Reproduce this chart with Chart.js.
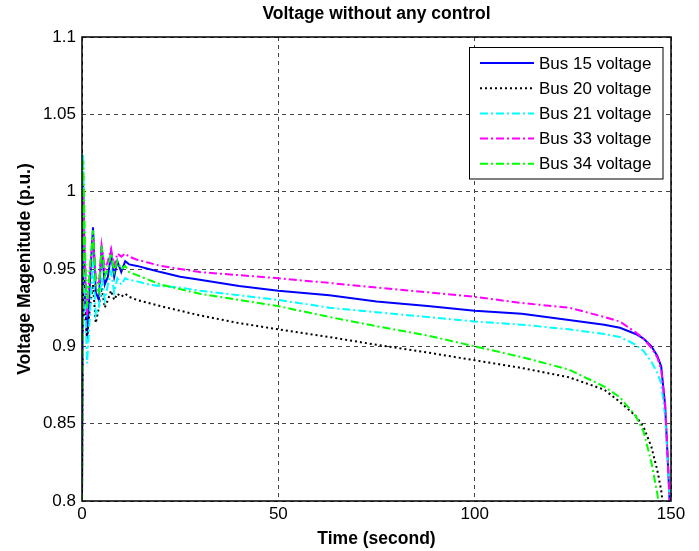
<!DOCTYPE html>
<html>
<head>
<meta charset="utf-8">
<script src="https://cdn.jsdelivr.net/npm/chart.js@4.4.1/dist/chart.umd.min.js"></script>
<style>
  html, body { margin: 0; padding: 0; background: #fff; }
  #wrap { width: 699px; height: 551px; }
</style>
</head>
<body>
<div id="wrap"><canvas id="grafico" width="699" height="551"></canvas></div>
<script>
// --- Dados ---
const tempo = [0, 0.3, 0.8, 1.3, 2.0, 2.8, 3.5, 4.3, 5.0, 5.8, 6.6, 7.4, 8.2, 9.0, 10, 11, 12, 14, 17, 20,
  25, 30, 40, 50, 63, 75, 88, 100, 112, 124, 133, 137, 141, 143, 145, 146.5, 147.5, 148.5, 149.3, 149.8];

const bus15 = [0.8, 1.005, 0.93, 0.905, 0.94, 0.977, 0.935, 0.93, 0.965, 0.94, 0.945, 0.96, 0.945, 0.955, 0.948, 0.955, 0.953, 0.952, 0.950, 0.948,
  0.945, 0.943, 0.939, 0.936, 0.933, 0.929, 0.926, 0.923, 0.921, 0.917, 0.914, 0.912, 0.908, 0.905, 0.900, 0.894, 0.887, 0.862, 0.82, 0.79];
const bus20 = [0.8, 0.985, 0.92, 0.905, 0.925, 0.94, 0.915, 0.925, 0.938, 0.925, 0.93, 0.936, 0.93, 0.934, 0.932, 0.934, 0.932, 0.930, 0.928, 0.926,
  0.923, 0.920, 0.915, 0.911, 0.906, 0.901, 0.896, 0.891, 0.886, 0.880, 0.872, 0.864, 0.855, 0.848, 0.835, 0.82, 0.807, 0.785, 0.76, 0.75];
const bus21 = [0.8, 1.024, 0.93, 0.889, 0.92, 0.955, 0.92, 0.925, 0.945, 0.93, 0.94, 0.948, 0.935, 0.944, 0.94, 0.944, 0.943, 0.942, 0.940, 0.939,
  0.938, 0.936, 0.933, 0.930, 0.925, 0.922, 0.919, 0.916, 0.914, 0.911, 0.908, 0.906, 0.901, 0.897, 0.890, 0.883, 0.876, 0.855, 0.82, 0.79];
const bus33 = [0.8, 1.0, 0.95, 0.92, 0.95, 0.97, 0.945, 0.94, 0.965, 0.95, 0.955, 0.963, 0.952, 0.96, 0.958, 0.96, 0.958, 0.956, 0.954, 0.952,
  0.950, 0.948, 0.946, 0.944, 0.941, 0.938, 0.935, 0.932, 0.928, 0.925, 0.919, 0.916, 0.909, 0.905, 0.899, 0.893, 0.885, 0.862, 0.82, 0.79];
const bus34 = [0.8, 1.02, 0.96, 0.925, 0.95, 0.975, 0.94, 0.935, 0.965, 0.945, 0.95, 0.96, 0.948, 0.955, 0.95, 0.952, 0.948, 0.946, 0.943, 0.940,
  0.937, 0.934, 0.930, 0.926, 0.919, 0.913, 0.907, 0.900, 0.893, 0.885, 0.874, 0.867, 0.855, 0.845, 0.825, 0.805, 0.787, 0.77, 0.76, 0.75];

const rotulos = ['Bus 15 voltage', 'Bus 20 voltage', 'Bus 21 voltage', 'Bus 33 voltage', 'Bus 34 voltage'];
const titulo = 'Voltage without any control';
const ticksX = [0, 50, 100, 150];
const ticksY = [0.8, 0.85, 0.9, 0.95, 1, 1.05, 1.1];

const series = [bus15, bus20, bus21, bus33, bus34];
const cores = ['#0000ff', '#000000', '#00ffff', '#ff00ff', '#00ff00'];
const tracos = [[], [2, 3], [8, 3, 2, 3], [8, 3, 2, 3], [8, 3, 2, 3]];

const FONTE = "'Liberation Sans', Arial, sans-serif";
Chart.defaults.font.family = FONTE;
Chart.defaults.color = '#000';

// moldura da área, título centrado nos eixos e legenda estilo MATLAB
const molduraLegenda = {
  id: 'molduraLegenda',
  afterDatasetsDraw(chart) {
    const { ctx, chartArea: a } = chart;
    ctx.save();
    ctx.strokeStyle = '#000';
    ctx.lineWidth = 1.5;
    ctx.setLineDash([]);
    ctx.strokeRect(a.left, a.top, a.right - a.left, a.bottom - a.top);

    // título
    ctx.fillStyle = '#000';
    ctx.font = 'bold 17.5px ' + FONTE;
    ctx.textAlign = 'center';
    ctx.textBaseline = 'middle';
    ctx.fillText(titulo, (a.left + a.right) / 2, 14);

    // legenda
    const bx = 469.5, by = 47.5, bw = 193.5, bh = 131.5;
    ctx.fillStyle = '#fff';
    ctx.fillRect(bx, by, bw, bh);
    ctx.lineWidth = 1;
    ctx.strokeRect(bx, by, bw, bh);
    ctx.font = '17px ' + FONTE;
    ctx.textAlign = 'left';
    chart.data.datasets.forEach((ds, i) => {
      const y = 63 + i * 25.2;
      ctx.beginPath();
      ctx.strokeStyle = ds.borderColor;
      ctx.lineWidth = ds.borderWidth;
      ctx.setLineDash(ds.borderDash || []);
      ctx.moveTo(480, y);
      ctx.lineTo(534, y);
      ctx.stroke();
      ctx.setLineDash([]);
      ctx.fillStyle = '#000';
      ctx.fillText(ds.label, 539, y + 1);
    });
    ctx.restore();
  }
};

const ctx = document.getElementById('grafico').getContext('2d');
new Chart(ctx, {
  type: 'line',
  data: {
    datasets: series.map((s, i) => ({
      label: rotulos[i],
      data: s.map((v, k) => ({ x: tempo[k], y: v })),
      borderColor: cores[i],
      backgroundColor: cores[i],
      borderWidth: 2,
      borderDash: tracos[i],
      pointRadius: 0,
      tension: 0,
      fill: false,
      order: 5 - i
    }))
  },
  options: {
    responsive: false,
    animation: false,
    layout: { padding: { top: 37, right: 28, bottom: 0, left: 0 } },
    plugins: {
      legend: { display: false },
      tooltip: { enabled: false },
      title: { display: false }
    },
    scales: {
      x: {
        type: 'linear',
        min: 0, max: 150,
        afterBuildTicks: sc => { sc.ticks = ticksX.map(v => ({ value: v })); },
        afterFit: sc => { sc.height = 50; },
        ticks: { font: { size: 17 }, padding: 3, maxRotation: 0 },
        grid: { color: '#444', lineWidth: 1, drawTicks: false },
        border: { display: false, dash: [4, 4] },
        title: { display: true, text: 'Time (second)', font: { size: 17.5, weight: 'bold' }, padding: { top: 0, bottom: 1 } }
      },
      y: {
        min: 0.8, max: 1.1,
        afterBuildTicks: sc => { sc.ticks = ticksY.map(v => ({ value: v })); },
        afterFit: sc => { sc.width = 82; },
        ticks: { font: { size: 17 }, padding: 6, callback: v => String(+v.toFixed(2)) },
        grid: { color: '#444', lineWidth: 1, drawTicks: false },
        border: { display: false, dash: [4, 4] },
        title: { display: true, text: 'Voltage Magenitude (p.u.)', font: { size: 17.5, weight: 'bold' }, padding: { top: 15, bottom: 0 } }
      }
    }
  },
  plugins: [molduraLegenda]
});
</script>
</body>
</html>
